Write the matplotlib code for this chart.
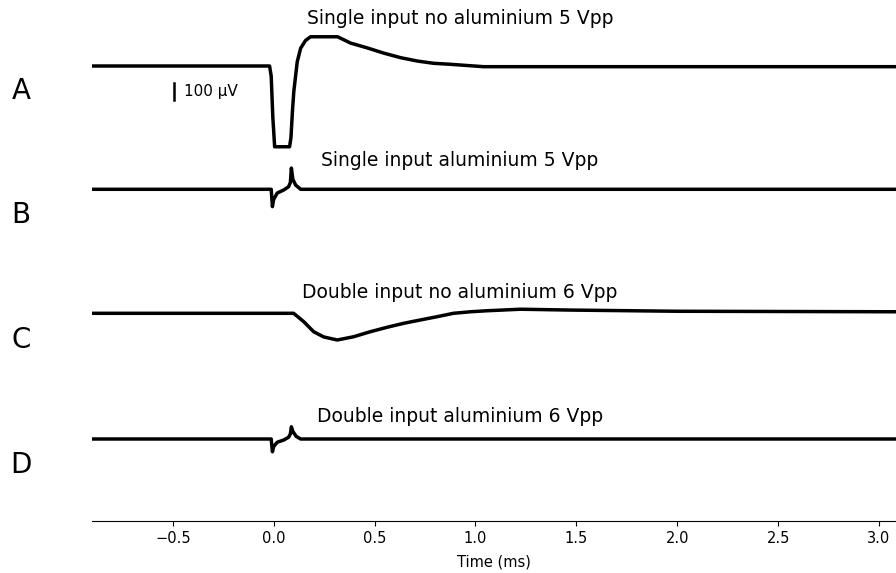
import matplotlib
matplotlib.use("Agg")
import matplotlib.pyplot as plt
import numpy as np

# traces: time (ms) and deflection from baseline (uV)
t_a = [-0.9, -0.02, -0.012, -0.004, 0.005, 0.079, 0.086, 0.093, 0.100, 0.117,
       0.134, 0.158, 0.183, 0.317, 0.381, 0.465, 0.545, 0.629, 0.713, 0.792,
       0.876, 1.04, 3.09]
v_a = [0, 0, -60, -300, -475, -475, -420, -270, -150, 25,
       105, 150, 172, 172, 135, 106, 76, 49, 29, 16,
       10, -4, -4]

t_b = [-0.9, -0.012, -0.006, 0.0, 0.018, 0.05, 0.074, 0.083, 0.088, 0.095,
       0.109, 0.134, 3.09]
v_b = [0, 0, -102, -60, -22, -4, 15, 40, 125, 60,
       25, 0, 0]

t_c = [-0.9, 0.099, 0.149, 0.198, 0.248, 0.315, 0.396, 0.48, 0.563, 0.644,
       0.728, 0.81, 0.891, 0.975, 1.058, 1.223, 1.47, 2.0, 3.09]
v_c = [0, 0, -49, -108, -139, -157, -138, -108, -82, -59,
       -39, -20, 0, 9, 15, 24, 19, 12, 9]

t_d = [-0.9, -0.012, -0.006, 0.0, 0.018, 0.05, 0.074, 0.083, 0.088, 0.095,
       0.112, 0.134, 3.09]
v_d = [0, 0, -75, -45, -19, -6, 10, 30, 72, 45,
       15, 0, 0]

titles = ["Single input no aluminium 5 Vpp", "Single input aluminium 5 Vpp",
          "Double input no aluminium 6 Vpp", "Double input aluminium 6 Vpp"]
letters = ["A", "B", "C", "D"]

# layout (pixels of a 896x573 canvas)
W, H = 896, 573
UV_PX = 100 / 17.0          # microvolts per pixel
AX_BOTTOM = 521
base_px = [66, 189.3, 313.3, 439]
title_px = [18, 160, 292, 417]
letter_px = [91, 215, 340, 465]

fig = plt.figure(figsize=(W / 100, H / 100), dpi=100)
ax = fig.add_axes([92 / W, (H - AX_BOTTOM) / H, 1 - 92 / W, AX_BOTTOM / H])
ax.set_xlim(-0.9, 3.084)
ax.set_ylim(0, AX_BOTTOM * UV_PX)

traces = [(t_a, v_a), (t_b, v_b), (t_c, v_c), (t_d, v_d)]
for (t, v), bp, ttl, tp, let, lp in zip(traces, base_px, titles, title_px, letters, letter_px):
    off = (AX_BOTTOM - bp) * UV_PX
    ax.plot(t, np.array(v) + off, color="black", lw=2.5, solid_joinstyle="round")
    fig.text(460 / W, 1 - tp / H, ttl, ha="center", va="center", fontsize=13.5)
    fig.text(21 / W, 1 - lp / H, let, ha="center", va="center", fontsize=20)

# scale bar
bar_top = (AX_BOTTOM - 83) * UV_PX
ax.plot([-0.495, -0.495], [bar_top - 100, bar_top], color="black", lw=1.8)
ax.text(-0.446, bar_top - 50, "100 \u00b5V", va="center", ha="left", fontsize=11)

for s in ["left", "right", "top"]:
    ax.spines[s].set_visible(False)
ax.set_yticks([])
ax.set_xticks([-0.5, 0.0, 0.5, 1.0, 1.5, 2.0, 2.5, 3.0])
ax.tick_params(axis="x", labelsize=10.5)
ax.set_xlabel("Time (ms)", fontsize=10.5, labelpad=6)

fig.savefig("out.png", dpi=100)
